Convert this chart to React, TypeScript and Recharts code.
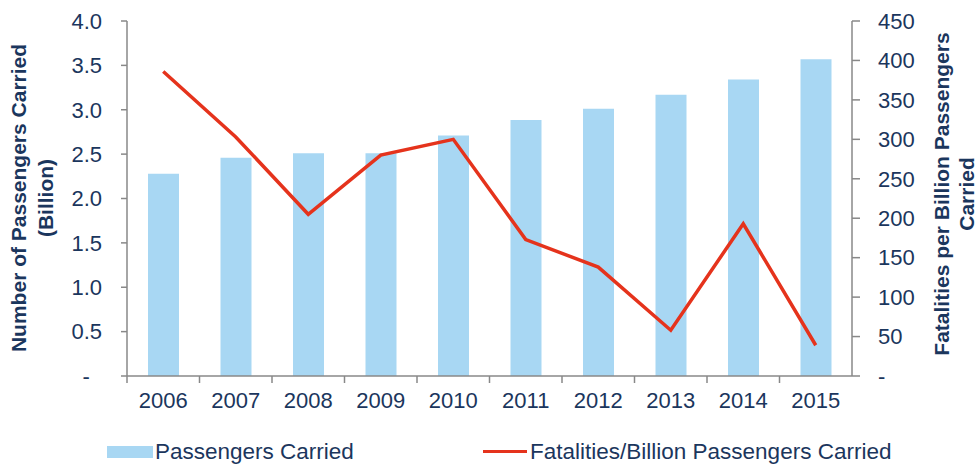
import { Bar, ComposedChart, Legend, Line, XAxis, YAxis } from "recharts";

const years = ["2006", "2007", "2008", "2009", "2010", "2011", "2012", "2013", "2014", "2015"];
const passengers = [2.28, 2.46, 2.51, 2.51, 2.71, 2.885, 3.01, 3.17, 3.34, 3.57];
const fatalities = [386, 303, 205, 280, 300, 173, 138, 58, 193, 39];
const leftTicks = [0, 0.5, 1, 1.5, 2, 2.5, 3, 3.5, 4];
const rightTicks = [0, 50, 100, 150, 200, 250, 300, 350, 400, 450];

const data = years.map((year, i) => ({
  year,
  passengers: passengers[i],
  fatalities: fatalities[i],
}));

const NAVY = "#1b365d";
const AXIS = "#888888";
const BAR = "#a8d7f3";
const RED = "#e5331c";
const FONT = "'Liberation Sans', Arial, sans-serif";

function YearTick(props: any) {
  const { x, y, payload } = props;
  const half = payload && payload.offset ? payload.offset : 36.25;
  const axisY = y - 16;
  return (
    <g>
      <line x1={x - half} y1={axisY} x2={x - half} y2={axisY + 7} stroke={AXIS} strokeWidth={1.5} />
      <text x={x} y={y} dy="0.71em" textAnchor="middle" fill={NAVY} fontSize={22} fontFamily={FONT}>
        {payload.value}
      </text>
    </g>
  );
}

function AxisTitle(props: any) {
  const { viewBox, lines, x1, cy, gap } = props;
  const vb = viewBox || { x: 0, y: 0 };
  const x = vb.x + x1;
  return (
    <text
      x={x}
      y={cy}
      transform={`rotate(-90, ${x}, ${cy})`}
      textAnchor="middle"
      dominantBaseline="central"
      fill={NAVY}
      fontSize={21}
      fontWeight="bold"
      fontFamily={FONT}
    >
      {lines.map((l: string, i: number) => (
        <tspan key={i} x={x} dy={i === 0 ? 0 : gap}>
          {l}
        </tspan>
      ))}
    </text>
  );
}

function LegendBox() {
  return (
    <div style={{ position: "relative", width: 977, height: 24, fontFamily: FONT, fontSize: 22.5, color: NAVY }}>
      <div style={{ position: "absolute", left: 107, top: 6, width: 46, height: 12, background: BAR }} />
      <div style={{ position: "absolute", left: 155, top: 0, lineHeight: "24px", whiteSpace: "nowrap" }}>
        Passengers Carried
      </div>
      <div style={{ position: "absolute", left: 483, top: 10, width: 44, height: 3, background: RED }} />
      <div style={{ position: "absolute", left: 530, top: 0, lineHeight: "24px", whiteSpace: "nowrap" }}>
        Fatalities/Billion Passengers Carried
      </div>
    </div>
  );
}

export default function App() {
  return (
    <div style={{ position: "absolute", left: 0, top: 0, width: 977, height: 464, background: "#fff" }}>
      <ComposedChart width={977} height={464} data={data} margin={{ top: 21, right: 0, bottom: 0, left: 0 }}>
        <XAxis
          dataKey="year"
          height={64}
          tickLine={false}
          tickSize={7}
          tickMargin={9}
          stroke={AXIS}
          strokeWidth={1.5}
          tick={<YearTick />}
          interval={0}
        />
        <YAxis
          yAxisId="left"
          orientation="left"
          width={127}
          domain={[0, 4]}
          ticks={leftTicks}
          tickFormatter={(v: number) => (v === 0 ? "-\u00a0\u00a0" : v.toFixed(1))}
          stroke={AXIS}
          strokeWidth={1.5}
          tickSize={6}
          tickMargin={19}
          tick={{ fill: NAVY, fontSize: 22, fontFamily: FONT }}
          label={<AxisTitle lines={["Number of Passengers Carried", "(Billion)"]} x1={18} cy={198} gap={27} />}
        />
        <YAxis
          yAxisId="right"
          orientation="right"
          width={125}
          domain={[0, 450]}
          ticks={rightTicks}
          tickFormatter={(v: number) => (v === 0 ? "-" : String(v))}
          stroke={AXIS}
          strokeWidth={1.5}
          tickSize={8}
          tickMargin={18}
          tick={{ fill: NAVY, fontSize: 22, fontFamily: FONT }}
          label={<AxisTitle lines={["Fatalities per Billion Passengers", "Carried"]} x1={89} cy={194} gap={25} />}
        />
        <Bar yAxisId="left" dataKey="passengers" fill={BAR} barSize={31} isAnimationActive={false} />
        <Line
          yAxisId="right"
          dataKey="fatalities"
          stroke={RED}
          strokeWidth={3.5}
          dot={false}
          type="linear"
          isAnimationActive={false}
        />
        <Legend
          verticalAlign="bottom"
          wrapperStyle={{ left: 0, bottom: 0, width: 977, height: 24 }}
          content={() => <LegendBox />}
        />
      </ComposedChart>
    </div>
  );
}
